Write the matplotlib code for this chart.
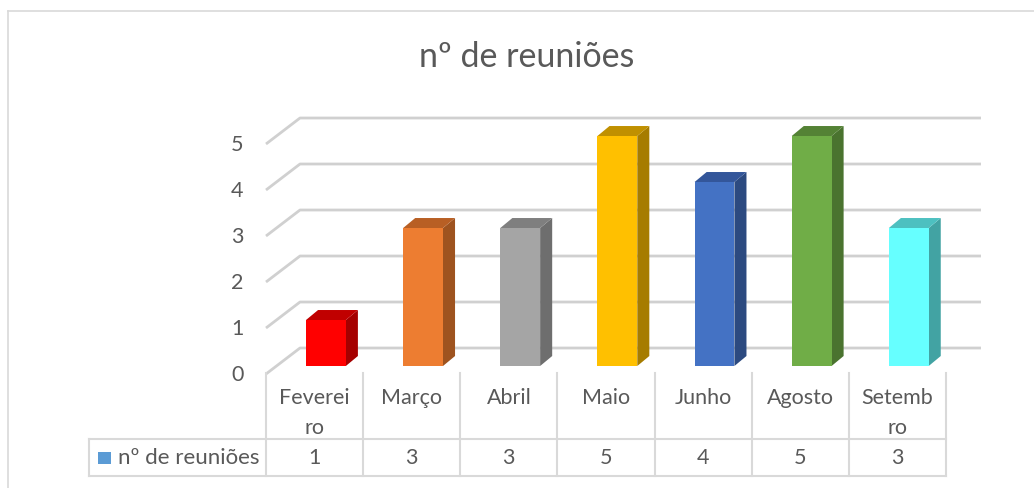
import matplotlib
matplotlib.use("Agg")
import matplotlib.pyplot as plt
from matplotlib.patches import Polygon, Rectangle

plt.rcParams['font.family'] = ['Lato', 'DejaVu Sans']

# data
meses = ["Feverei\nro", "Março", "Abril", "Maio", "Junho", "Agosto", "Setemb\nro"]
reunioes = [1, 3, 3, 5, 4, 5, 3]
serie = "nº de reuniões"
cor_frente = ["#ff0000", "#ed7d31", "#a5a5a5", "#ffc000", "#4472c4", "#70ad47", "#66ffff"]
cor_lado = ["#a50000", "#9e531f", "#6e6e6e", "#a67c00", "#2c4a80", "#4a732f", "#42a3a3"]
cor_topo = ["#c00000", "#b85f24", "#7f7f7f", "#c09000", "#33569a", "#548235", "#4dc0c0"]
yticks = [0, 1, 2, 3, 4, 5]

W, H = 1034, 489
fig = plt.figure(figsize=(W / 100, H / 100), dpi=100)
# axes: x -0.5..6.5 -> px 266..946 ; y 0..5 -> px 367..137
ax = fig.add_axes([266 / W, (H - 367) / H, 680 / W, 230 / H])
ax.set_xlim(-0.5, 6.5)
ax.set_ylim(0, 5)
ax.axis('off')

txt = '#595959'
grid = '#d0d0d0'
tab = '#d9d9d9'
fs = 15.5

# 3d offsets (data units)
wall_dx, wall_dy = 0.35, 0.565
front_y = -0.174
bar_dx, bar_dy = 0.124, 0.217
bar_w, bar_off = 0.41, 0.117

# walls / gridlines
for v in yticks:
    y0 = v + front_y
    ax.plot([-0.5, -0.5 + wall_dx, 6.86], [y0, y0 + wall_dy, y0 + wall_dy],
            color=grid, lw=2, clip_on=False, zorder=1, solid_capstyle='butt')
    ax.text(-0.73, y0, str(v), ha='right', va='center', fontsize=fs, color=txt)

# bars
for i, v in enumerate(reunioes):
    xl = i + bar_off - bar_w / 2
    xr = xl + bar_w
    ax.add_patch(Polygon([(xr, 0), (xr + bar_dx, bar_dy), (xr + bar_dx, v + bar_dy), (xr, v)],
                         closed=True, fc=cor_lado[i], ec='none', zorder=3, clip_on=False))
    ax.add_patch(Polygon([(xl, v), (xr, v), (xr + bar_dx, v + bar_dy), (xl + bar_dx, v + bar_dy)],
                         closed=True, fc=cor_topo[i], ec='none', zorder=3, clip_on=False))
    ax.add_patch(Rectangle((xl, 0), bar_w, v, fc=cor_frente[i], ec='none', zorder=4, clip_on=False))

# data table
r_top, r_mid, r_bot = -0.152, -1.587, -2.391
leg_left = -2.322
for k in range(len(meses) + 1):
    ax.plot([k - 0.5, k - 0.5], [r_top, r_bot], color=tab, lw=1.5, clip_on=False)
ax.plot([leg_left, leg_left], [r_mid, r_bot], color=tab, lw=1.5, clip_on=False)
ax.plot([leg_left, 6.5], [r_mid, r_mid], color=tab, lw=1.5, clip_on=False)
ax.plot([leg_left, 6.5], [r_bot, r_bot], color=tab, lw=1.5, clip_on=False)

for i, (m, v) in enumerate(zip(meses, reunioes)):
    ax.text(i, -0.45, m, ha='center', va='top', fontsize=fs, color=txt,
            linespacing=1.65, clip_on=False)
    ax.text(i, (r_mid + r_bot) / 2, str(v), ha='center', va='center',
            fontsize=fs, color=txt, clip_on=False)

ax.add_patch(Rectangle((-2.228, -2.13), 0.13, 0.26, fc='#5b9bd5', ec='none', clip_on=False))
ax.text(-2.02, (r_mid + r_bot) / 2, serie, ha='left', va='center',
        fontsize=fs + 0.5, color=txt, clip_on=False)

# title
fig.text(527 / W, 1 - 57 / H, serie, ha='center', va='center', fontsize=24.5, color=txt)

# outer chart border
fig.add_artist(plt.Line2D([7.5 / W, 1], [1 - 12 / H, 1 - 12 / H], color=tab, lw=1.2))
fig.add_artist(plt.Line2D([7.5 / W, 7.5 / W], [0, 1 - 12 / H], color=tab, lw=1.2))

fig.savefig("out.png", dpi=100)
